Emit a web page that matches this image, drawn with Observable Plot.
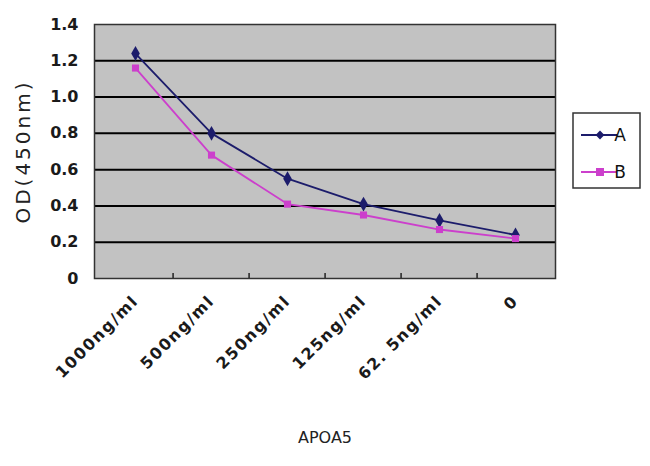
<!DOCTYPE html>
<html>
<head>
<meta charset="utf-8">
<script src="https://cdn.jsdelivr.net/npm/d3@7"></script>
<script src="https://cdn.jsdelivr.net/npm/@observablehq/plot@0.6"></script>
<style>
  html, body { margin: 0; padding: 0; background: #fff; }
  #chart { position: relative; width: 650px; height: 466px; }
</style>
</head>
<body>
<div id="chart"></div>
<script>
const categories = ["1000ng/ml", "500ng/ml", "250ng/ml", "125ng/ml", "62. 5ng/ml", "0"];
const seriesA = [1.24, 0.80, 0.55, 0.41, 0.32, 0.24];
const seriesB = [1.16, 0.68, 0.41, 0.35, 0.27, 0.22];
const seriesNames = ["A", "B"];
const yTicks = [0, 0.2, 0.4, 0.6, 0.8, 1.0, 1.2, 1.4];
const yLabel = "OD(450nm)";
const xLabel = "APOA5";

const colors = {A: "#1c1c6b", B: "#cc3fcc"};
const data = [
  ...categories.map((c, i) => ({cat: c, value: seriesA[i], series: "A"})),
  ...categories.map((c, i) => ({cat: c, value: seriesB[i], series: "B"}))
];

const W = 650, H = 466;
const mL = 94, mR = 95, mT = 24, mB = 188;
const step = (W - mL - mR) / categories.length;

const plot = Plot.plot({
  width: W,
  height: H,
  marginLeft: mL,
  marginRight: mR,
  marginTop: mT,
  marginBottom: mB,
  style: {background: "transparent", fontFamily: "DejaVu Sans", color: "#1a1a1a"},
  x: {type: "point", domain: categories, padding: 0.5, label: null},
  y: {domain: [0, 1.4], label: null},
  marks: [
    Plot.frame({fill: "#c2c2c2", stroke: null}),
    Plot.ruleY(yTicks.filter(d => d > 0 && d < 1.4), {stroke: "#000", strokeWidth: 2}),
    Plot.ruleX(categories.slice(1), {x: d => d, y1: 0, y2: 0.028, dx: -step / 2, stroke: "#222", strokeWidth: 1.5}),
    Plot.frame({stroke: "#333", strokeWidth: 1.5}),
    Plot.axisY({ticks: yTicks, tickSize: 0, tickPadding: 16, tickFormat: d => d === 0 ? "0" : d.toFixed(1), fontSize: 16, fontWeight: "bold", label: null}),
    Plot.axisX({tickSize: 0, tickRotate: -45, tickPadding: 20, fontSize: 16, fontWeight: "bold", label: null}),
    Plot.line(data, {x: "cat", y: "value", z: "series", stroke: d => colors[d.series], strokeWidth: 1.8}),
    Plot.dot(data.filter(d => d.series === "A"), {x: "cat", y: "value", symbol: "diamond", r: 4.5, fill: colors.A}),
    Plot.dot(data.filter(d => d.series === "B"), {x: "cat", y: "value", symbol: "square", r: 4, fill: colors.B}),
    Plot.text([yLabel], {frameAnchor: "left", textAnchor: "middle", dx: -71, dy: 0, rotate: -90, fontSize: 20, text: d => d, fill: "#222"}),
    Plot.text([xLabel], {frameAnchor: "bottom", dy: 164, fontSize: 16, text: d => d, fill: "#222"})
  ]
});

document.getElementById("chart").appendChild(plot);

const svg = d3.select(plot);
svg.selectAll("[aria-label='x-axis tick label'] text").style("letter-spacing", "1.5px");
svg.selectAll("text").filter(function () { return this.textContent === yLabel; })
  .style("letter-spacing", "3px");

// Legend drawn into the same SVG
const lg = svg.append("g").attr("font-family", "DejaVu Sans").attr("font-size", 17);
lg.append("rect").attr("x", 573).attr("y", 113).attr("width", 67).attr("height", 75)
  .attr("fill", "#fff").attr("stroke", "#333").attr("stroke-width", 1.5);
seriesNames.forEach((s, i) => {
  const y = 135 + i * 37;
  lg.append("line").attr("x1", 581).attr("x2", 617).attr("y1", y).attr("y2", y)
    .attr("stroke", colors[s]).attr("stroke-width", 1.8);
  if (s === "A") {
    lg.append("path").attr("d", d3.symbol(d3.symbolDiamond2, 50)()).attr("transform", `translate(600,${y})`).attr("fill", colors[s]);
  } else {
    lg.append("rect").attr("x", 596).attr("y", y - 4).attr("width", 8).attr("height", 8).attr("fill", colors[s]);
  }
  lg.append("text").attr("x", 620).attr("y", y + 6).attr("fill", "#111").text(s);
});
</script>
</body>
</html>
